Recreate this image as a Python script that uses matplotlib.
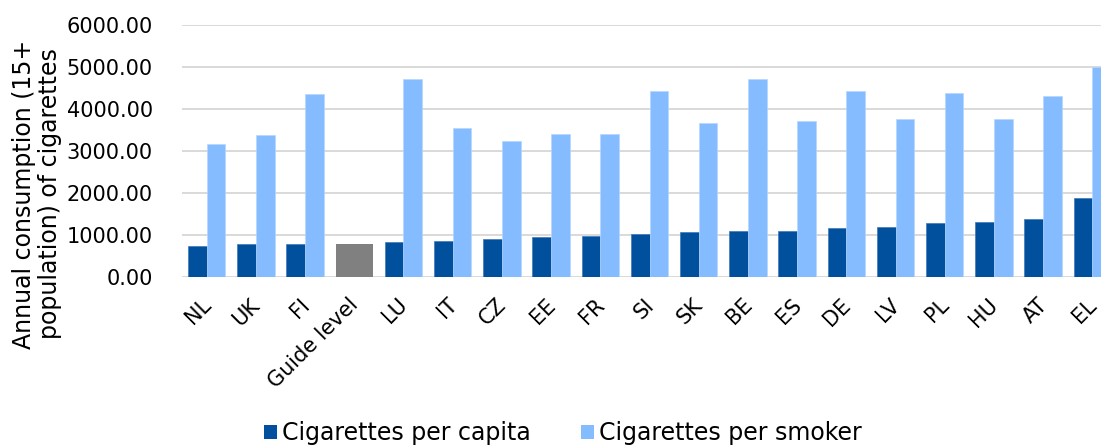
import matplotlib
matplotlib.use("Agg")
import matplotlib.pyplot as plt
import matplotlib.transforms as mtransforms
import numpy as np
from matplotlib.patches import Patch

countries = ["NL", "UK", "FI", "Guide level", "LU", "IT", "CZ", "EE", "FR", "SI",
             "SK", "BE", "ES", "DE", "LV", "PL", "HU", "AT", "EL"]
per_capita = [730, 770, 780, None, 833, 857, 905, 952, 961, 1008,
              1071, 1087, 1095, 1152, 1183, 1271, 1295, 1366, 1866]
per_smoker = [3152, 3366, 4342, None, 4700, 3540, 3223, 3398, 3390, 4413,
              3652, 4700, 3700, 4413, 3762, 4366, 3762, 4302, 4990]
guide_level = 780
guide_label = "Guide level"

yticks = [0, 1000, 2000, 3000, 4000, 5000, 6000]

DARK = "#00509E"
LIGHT = "#85BCFF"
GREY = "#808080"

plt.rcParams["font.family"] = ["DejaVu Sans"]

W, H = 1101, 445
fig = plt.figure(figsize=(W / 100, H / 100), dpi=100)
ax = fig.add_axes([182 / W, (H - 276.7) / H, 935 / W, (276.7 - 24.7) / H])

x = np.arange(len(countries))
bw = 0.38
for i, c in enumerate(countries):
    if c == guide_label:
        ax.bar(x[i], guide_level, width=2 * bw, color=GREY, zorder=3)
    else:
        ax.bar(x[i] - bw / 2, per_capita[i], width=bw, color=DARK,
               edgecolor="#3d78b8", linewidth=0.5, zorder=3)
        ax.bar(x[i] + bw / 2, per_smoker[i], width=bw, color=LIGHT,
               edgecolor="#b5d6ff", linewidth=0.5, zorder=3)

ax.set_xlim(-0.5, len(countries) - 0.5)
ax.set_ylim(0, 6000)
ax.set_yticks(yticks)
ax.set_yticklabels([f"{v:.2f}" for v in yticks], fontsize=15)
ax.set_xticks(x)
ax.set_xticklabels([])
ax.tick_params(axis="both", length=0)
ax.tick_params(axis="y", pad=21)
ax.grid(axis="y", color="#d9d9d9", linewidth=1.4, zorder=0)
ax.set_axisbelow(True)
for s in ax.spines.values():
    s.set_visible(False)

# category labels, rotated and anchored just below each group
label_tr = ax.get_xaxis_transform() + mtransforms.ScaledTranslation(
    -6 / 100, -18 / 100, fig.dpi_scale_trans)
for xi, c in zip(x, countries):
    ax.text(xi, 0, c, transform=label_tr, rotation=45, ha="right", va="top",
            rotation_mode="anchor", fontsize=15, clip_on=False)

fig.text(37 / W, (H - 194) / H,
         "Annual consumption (15+\npopulation) of cigarettes",
         rotation=90, ha="center", va="center", fontsize=17,
         linespacing=1.15)

handles = [Patch(facecolor=DARK, label="Cigarettes per capita"),
           Patch(facecolor=LIGHT, label="Cigarettes per smoker")]
fig.legend(handles=handles, loc="center", bbox_to_anchor=(563 / W, 12 / H),
           ncol=2, frameon=False, fontsize=17, handlelength=0.55,
           handleheight=0.55, handletextpad=0.22, columnspacing=2.1,
           borderpad=0, borderaxespad=0)

fig.savefig("out.png", dpi=100)
